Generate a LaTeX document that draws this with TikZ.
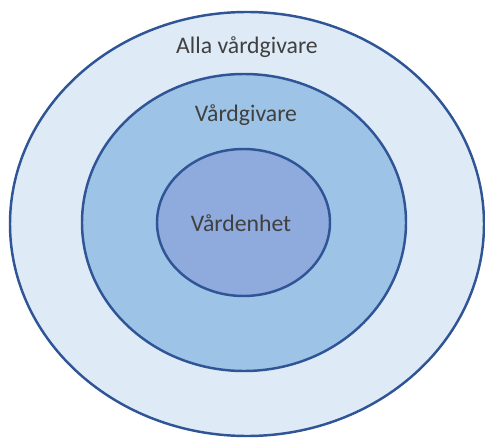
\documentclass[tikz,border=0pt]{standalone}
\usepackage{fontspec}
\setmainfont{Carlito}
\definecolor{ringline}{HTML}{2F5597}
\definecolor{outerfill}{HTML}{DEEAF6}
\definecolor{midfill}{HTML}{9DC3E6}
\definecolor{innerfill}{HTML}{8FAADC}
\definecolor{labeltext}{HTML}{404040}
\tikzset{ring/.style={draw=ringline, line width=1.4pt},
  ringlabel/.style={anchor=base, text=labeltext, font=\fontsize{13.5}{16}\selectfont}}
\begin{document}
\begin{tikzpicture}
\useasboundingbox (0,0) rectangle (9.7,8.74);
\draw[ring, fill=outerfill] (4.94,4.26) ellipse (4.74 and 4.24);
\draw[ring, fill=midfill] (4.88,4.29) ellipse (3.24 and 2.97);
\draw[ring, fill=innerfill] (4.87,4.29) ellipse (1.73 and 1.47);
\node[ringlabel] (alla) at (4.94,7.66) {Alla vårdgivare};
\node[ringlabel] (givare) at (4.92,6.30) {Vårdgivare};
\node[ringlabel] (enhet) at (4.82,4.12) {Vårdenhet};
\end{tikzpicture}
\end{document}
